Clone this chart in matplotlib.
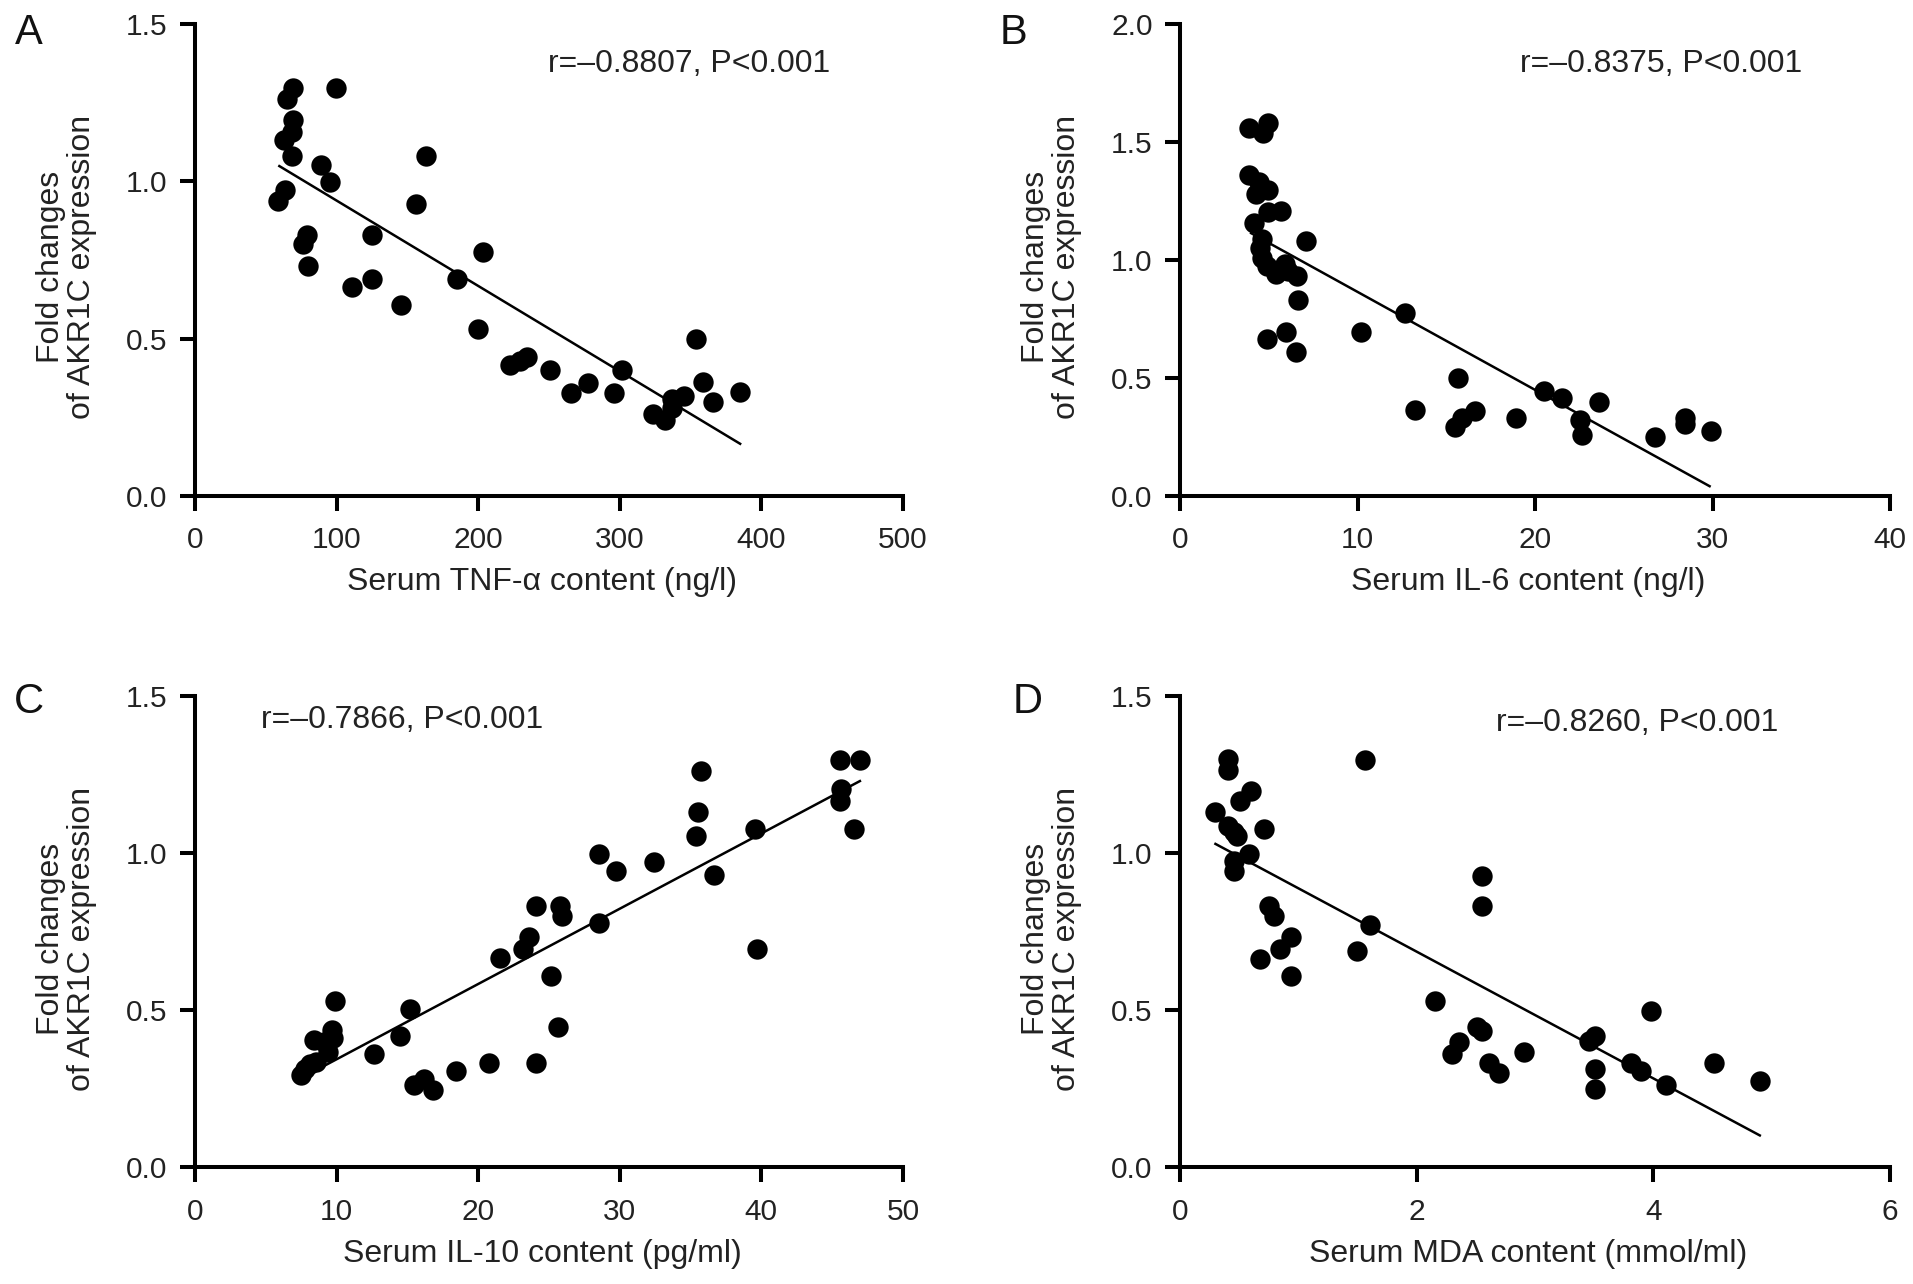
import numpy as np
import matplotlib
matplotlib.use('Agg')
import matplotlib.pyplot as plt

plt.rcParams['font.family'] = ['Liberation Sans', 'DejaVu Sans']

# Panel A: TNF-alpha
tnf_x = [58.2, 62.5, 63.8, 65.1, 69.4, 68.1, 69.4, 68.1, 76.0, 79.0, 79.9, 89.0, 95.5, 99.4,
         111.1, 125.0, 125.0, 145.4, 156.2, 163.2, 185.3, 203.1, 200.1, 222.7, 229.2, 234.4,
         250.4, 265.6, 277.8, 296.0, 301.2, 323.4, 332.0, 337.2, 337.2, 345.1, 353.7, 358.9,
         365.5, 385.0]
tnf_y = [0.938, 1.131, 0.973, 1.262, 1.297, 1.157, 1.196, 1.081, 0.800, 0.829, 0.731, 1.052,
         0.997, 1.297, 0.663, 0.829, 0.690, 0.607, 0.928, 1.081, 0.690, 0.774, 0.531, 0.415,
         0.428, 0.441, 0.400, 0.328, 0.358, 0.328, 0.400, 0.259, 0.242, 0.279, 0.308, 0.316,
         0.499, 0.363, 0.299, 0.331]
tnf_fit_x = [59.5, 385.0]
tnf_fit_y = [1.049, 0.165]

# Panel B: IL-6
il6_x = [3.88, 4.68, 4.96, 3.88, 4.27, 4.93, 4.44, 4.16, 4.93, 5.65, 4.58, 4.51, 4.58, 4.86,
         5.38, 5.90, 6.07, 6.59, 7.11, 6.66, 4.86, 5.97, 6.52, 10.20, 12.66, 13.25, 15.64,
         15.50, 15.88, 16.58, 18.90, 20.50, 21.51, 22.55, 22.62, 23.59, 26.78, 28.44, 28.44,
         29.90]
il6_y = [1.560, 1.539, 1.581, 1.359, 1.280, 1.298, 1.333, 1.158, 1.202, 1.210, 1.088, 1.053,
         1.010, 0.975, 0.940, 0.983, 0.952, 0.934, 1.080, 0.830, 0.666, 0.695, 0.608, 0.695,
         0.774, 0.363, 0.498, 0.293, 0.328, 0.358, 0.328, 0.442, 0.416, 0.323, 0.259, 0.398,
         0.250, 0.328, 0.302, 0.276]
il6_fit_x = [3.99, 29.83]
il6_fit_y = [1.114, 0.040]

# Panel C: IL-10
il10_x = [7.47, 7.77, 8.12, 8.55, 8.42, 9.11, 9.42, 9.64, 9.72, 9.85, 12.67, 14.50, 15.19,
          15.49, 16.15, 16.80, 18.40, 20.79, 21.57, 23.18, 23.61, 24.09, 24.09, 25.13, 25.61,
          25.78, 25.91, 28.52, 28.52, 29.73, 32.42, 35.37, 35.55, 35.76, 36.63, 39.58, 39.67,
          45.57, 45.66, 45.53, 46.96, 46.53]
il10_y = [0.294, 0.314, 0.327, 0.336, 0.405, 0.399, 0.366, 0.438, 0.412, 0.530, 0.359, 0.418,
          0.503, 0.262, 0.282, 0.245, 0.305, 0.333, 0.667, 0.693, 0.732, 0.830, 0.333, 0.608,
          0.445, 0.830, 0.798, 0.778, 0.998, 0.942, 0.971, 1.055, 1.131, 1.262, 0.929, 1.078,
          0.693, 1.164, 1.203, 1.295, 1.295, 1.078]
il10_fit_x = [7.68, 46.96]
il10_fit_y = [0.288, 1.229]

# Panel D: MDA
mda_x = [0.297, 0.402, 0.402, 0.402, 0.454, 0.480, 0.454, 0.454, 0.506, 0.600, 0.584, 0.704,
         0.673, 0.751, 0.793, 0.845, 0.939, 0.939, 1.497, 1.565, 1.602, 2.150, 2.296, 2.358,
         2.504, 2.551, 2.551, 2.551, 2.609, 2.697, 2.906, 3.454, 3.506, 3.506, 3.506, 3.809,
         3.897, 3.976, 4.106, 4.508, 4.899]
mda_y = [1.131, 1.299, 1.265, 1.085, 1.066, 1.053, 0.974, 0.942, 1.164, 1.197, 0.998, 1.076,
         0.663, 0.830, 0.798, 0.693, 0.732, 0.608, 0.689, 1.295, 0.772, 0.530, 0.360, 0.399,
         0.445, 0.432, 0.928, 0.830, 0.333, 0.301, 0.366, 0.401, 0.418, 0.314, 0.248, 0.333,
         0.307, 0.497, 0.262, 0.333, 0.275]
mda_fit_x = [0.297, 4.899]
mda_fit_y = [1.029, 0.101]

panels = [
    dict(letter='A', x=tnf_x, y=tnf_y, fx=tnf_fit_x, fy=tnf_fit_y,
         xlim=500, xticks=[0, 100, 200, 300, 400, 500], ylim=1.5,
         yticks=[0.0, 0.5, 1.0, 1.5], xlabel='Serum TNF-\u03b1 content (ng/l)',
         stat='r=\u20130.8807, P<0.001', stat_pos=(0.698, 0.917),
         rect=[0.102, 0.614, 0.370, 0.367], letter_pos=(0.015, 0.974)),
    dict(letter='B', x=il6_x, y=il6_y, fx=il6_fit_x, fy=il6_fit_y,
         xlim=40, xticks=[0, 10, 20, 30, 40], ylim=2.0,
         yticks=[0.0, 0.5, 1.0, 1.5, 2.0], xlabel='Serum IL-6 content (ng/l)',
         stat='r=\u20130.8375, P<0.001', stat_pos=(0.678, 0.917),
         rect=[0.617, 0.614, 0.371, 0.367], letter_pos=(0.530, 0.974)),
    dict(letter='C', x=il10_x, y=il10_y, fx=il10_fit_x, fy=il10_fit_y,
         xlim=50, xticks=[0, 10, 20, 30, 40, 50], ylim=1.5,
         yticks=[0.0, 0.5, 1.0, 1.5], xlabel='Serum IL-10 content (pg/ml)',
         stat='r=\u20130.7866, P<0.001', stat_pos=(0.293, 0.948),
         rect=[0.102, 0.091, 0.370, 0.367], letter_pos=(0.015, 0.453)),
    dict(letter='D', x=mda_x, y=mda_y, fx=mda_fit_x, fy=mda_fit_y,
         xlim=6, xticks=[0, 2, 4, 6], ylim=1.5,
         yticks=[0.0, 0.5, 1.0, 1.5], xlabel='Serum MDA content (mmol/ml)',
         stat='r=\u20130.8260, P<0.001', stat_pos=(0.644, 0.943),
         rect=[0.617, 0.091, 0.371, 0.367], letter_pos=(0.537, 0.453)),
]

fig = plt.figure(figsize=(19.13, 12.84), dpi=100)

for p in panels:
    ax = fig.add_axes(p['rect'])
    ax.scatter(p['x'], p['y'], s=215, color='black', linewidths=0, zorder=3, clip_on=False)
    ax.plot(p['fx'], p['fy'], color='black', lw=1.8, zorder=2)

    ax.set_xlim(0, p['xlim'])
    ax.set_ylim(0, p['ylim'])
    ax.set_xticks(p['xticks'])
    ax.set_yticks(p['yticks'])
    ax.set_yticklabels([f'{t:.1f}' for t in p['yticks']])

    for side in ['top', 'right']:
        ax.spines[side].set_visible(False)
    for side in ['left', 'bottom']:
        ax.spines[side].set_linewidth(2.9)
        ax.spines[side].set_capstyle('projecting')
    ax.tick_params(direction='out', length=11, width=2.9, labelsize=21.5, pad=9,
                   colors='black', labelcolor='#222222')
    ax.tick_params(axis='x', pad=11)

    ax.set_xlabel(p['xlabel'], fontsize=23, color='#222222')
    ax.xaxis.set_label_coords(0.49, -0.152)
    ax.set_ylabel('Fold changes\nof AKR1C expression', fontsize=23, color='#222222',
                  linespacing=1.05)
    ax.yaxis.set_label_coords(-0.138, 0.485)

    ax.text(p['stat_pos'][0], p['stat_pos'][1], p['stat'], transform=ax.transAxes,
            ha='center', va='center', fontsize=23, color='#222222')
    fig.text(p['letter_pos'][0], p['letter_pos'][1], p['letter'], ha='center',
             va='center', fontsize=30, color='#111111')

fig.savefig('out.png', dpi=100)
